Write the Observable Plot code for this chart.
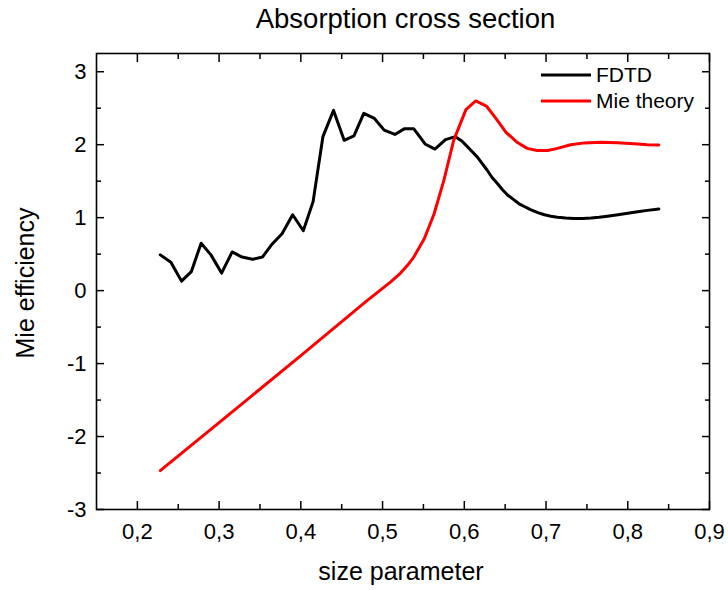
<!DOCTYPE html>
<html><head><meta charset="utf-8">
<script src="https://cdn.jsdelivr.net/npm/d3@7"></script>
<script src="https://cdn.jsdelivr.net/npm/@observablehq/plot@0.6"></script>
<style>body{margin:0;background:#fff;}</style>
</head><body><div id="chart"></div>
<script>
const titleText = "Absorption cross section";
const xLabelText = "size parameter";
const yLabelText = "Mie efficiency";
const seriesNames = ["FDTD", "Mie theory"];
const seriesColors = ["#000000", "#ff0000"];

const fdtdX = [0.228,0.241,0.254,0.266,0.278,0.290,0.303,0.316,0.328,0.341,0.353,0.365,0.377,0.390,0.403,0.415,0.427,0.440,0.453,0.465,0.477,0.490,0.502,0.515,0.527,0.538,0.552,0.564,0.577,0.589,0.597,0.604,0.610,0.616,0.622,0.628,0.634,0.641,0.647,0.653,0.660,0.667,0.674,0.681,0.690,0.698,0.706,0.714,0.724,0.734,0.745,0.755,0.765,0.775,0.788,0.800,0.812,0.824,0.838];
const fdtdY = [0.49,0.39,0.13,0.26,0.65,0.49,0.24,0.53,0.46,0.43,0.46,0.64,0.78,1.04,0.82,1.22,2.11,2.47,2.06,2.12,2.43,2.36,2.20,2.14,2.22,2.22,2.01,1.94,2.07,2.11,2.05,1.97,1.90,1.83,1.74,1.65,1.55,1.46,1.38,1.31,1.25,1.19,1.15,1.11,1.07,1.04,1.02,1.005,0.995,0.99,0.99,0.995,1.005,1.02,1.04,1.06,1.08,1.10,1.12];

const mieX = [0.228,0.30,0.40,0.481,0.510,0.522,0.530,0.538,0.551,0.563,0.575,0.587,0.602,0.614,0.627,0.638,0.651,0.665,0.677,0.689,0.702,0.714,0.730,0.747,0.767,0.787,0.808,0.824,0.838];
const mieY = [-2.466,-1.81,-0.89,-0.137,0.12,0.24,0.34,0.456,0.71,1.05,1.51,2.06,2.48,2.60,2.53,2.37,2.17,2.03,1.95,1.92,1.92,1.95,2.00,2.025,2.032,2.027,2.014,2.00,1.996];

const xMajor = [0.2,0.3,0.4,0.5,0.6,0.7,0.8,0.9];
const xMinor = [0.25,0.35,0.45,0.55,0.65,0.75,0.85];
const yMajor = [-3,-2,-1,0,1,2,3];
const yMinor = [-2.5,-1.5,-0.5,0.5,1.5,2.5];

const fdtd = fdtdX.map((x, i) => ({x, y: fdtdY[i]}));
const mie = mieX.map((x, i) => ({x, y: mieY[i]}));

const fmtX = d => d.toFixed(1).replace(".", ",");
const blank = () => "";
const tickOpts = {label: null, strokeWidth: 1.5, tickFormat: blank};

function legend(index, scales, values, dims) {
  const g = d3.create("svg:g");
  const right = dims.width - dims.marginRight;
  const top = dims.marginTop;
  seriesNames.forEach((name, i) => {
    const yy = top + 22 + i * 26;
    g.append("line").attr("x1", right - 168).attr("x2", right - 118)
      .attr("y1", yy).attr("y2", yy).attr("stroke", seriesColors[i]).attr("stroke-width", 3);
    g.append("text").attr("x", right - 113).attr("y", yy + 7)
      .attr("text-anchor", "start")
      .attr("font-size", 21).attr("fill", "black").text(name);
  });
  return g.node();
}

const plot = Plot.plot({
  width: 728, height: 590,
  marginLeft: 96, marginRight: 19, marginTop: 53, marginBottom: 81,
  style: {fontFamily: "'Liberation Sans', Arial, sans-serif", color: "black", background: "white"},
  x: {domain: [0.15, 0.9], axis: null},
  y: {domain: [-3, 3.25], axis: null},
  marks: [
    Plot.axisX(xMajor, {anchor: "bottom", tickSize: 0, tickPadding: 14, tickFormat: fmtX, fontSize: 22, label: null}),
    Plot.axisY(yMajor, {anchor: "left", tickSize: 0, tickPadding: 10, tickFormat: d => String(d), fontSize: 22, label: null}),
    Plot.axisX(xMajor, {anchor: "bottom", tickSize: -8, ...tickOpts}),
    Plot.axisX(xMinor, {anchor: "bottom", tickSize: -5, ...tickOpts}),
    Plot.axisX(xMajor, {anchor: "top", tickSize: -8, ...tickOpts}),
    Plot.axisX(xMinor, {anchor: "top", tickSize: -5, ...tickOpts}),
    Plot.axisY(yMajor, {anchor: "left", tickSize: -8, ...tickOpts}),
    Plot.axisY(yMinor, {anchor: "left", tickSize: -5, ...tickOpts}),
    Plot.axisY(yMajor, {anchor: "right", tickSize: -8, ...tickOpts}),
    Plot.axisY(yMinor, {anchor: "right", tickSize: -5, ...tickOpts}),
    Plot.line(fdtd, {x: "x", y: "y", stroke: seriesColors[0], strokeWidth: 3}),
    Plot.line(mie, {x: "x", y: "y", stroke: seriesColors[1], strokeWidth: 3}),
    Plot.frame({stroke: "black", strokeWidth: 1.6}),
    Plot.text([titleText], {frameAnchor: "top", dy: -34, dx: 2.5, fontSize: 27.5, lineAnchor: "middle"}),
    Plot.text([xLabelText], {frameAnchor: "bottom", dy: 62, dx: -2, fontSize: 25, lineAnchor: "middle"}),
    Plot.text([yLabelText], {frameAnchor: "left", dx: -71, dy: 1.5, rotate: -90, fontSize: 25, lineAnchor: "middle", textAnchor: "middle"}),
    legend
  ]
});
document.getElementById("chart").appendChild(plot);
</script>
</body></html>
